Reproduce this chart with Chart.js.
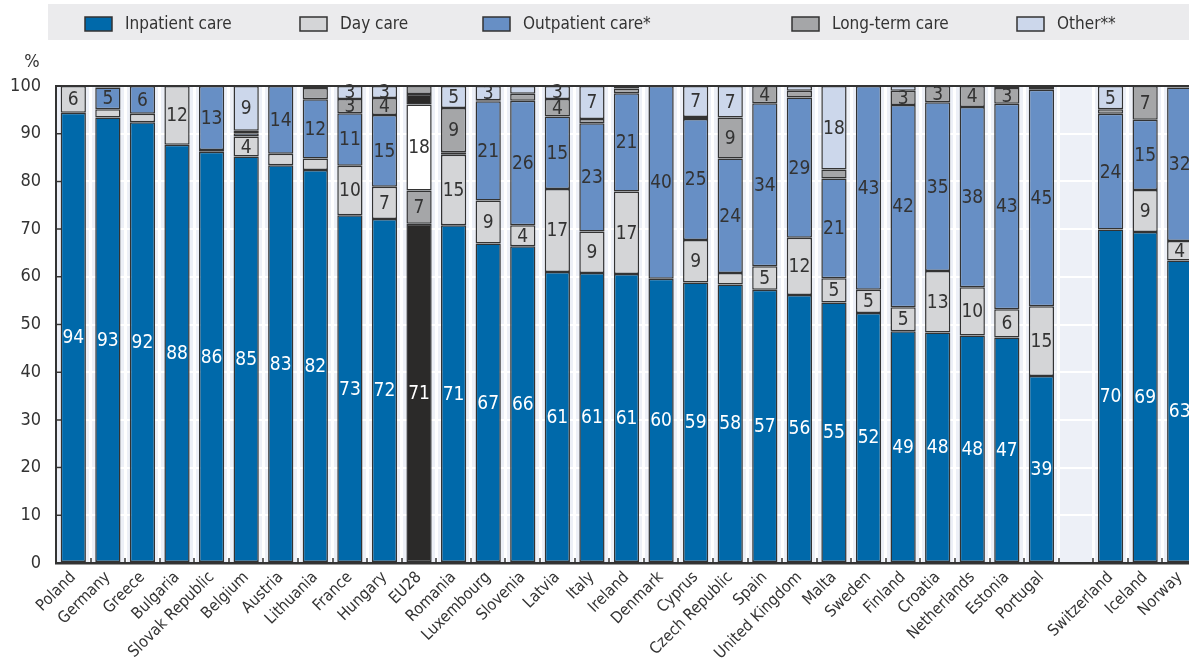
<!DOCTYPE html>
<html>
<head>
<meta charset="utf-8">
<script src="https://cdn.jsdelivr.net/npm/chart.js@4.4.6/dist/chart.umd.min.js"></script>
<style>
  html, body { margin: 0; padding: 0; background: #fff; overflow: hidden; }
  #wrap { position: relative; width: 1200px; height: 661px; }
</style>
</head>
<body>
<div id="wrap"><canvas id="c"></canvas></div>
<script>
// shares of current health spending by mode of care, per country (%)
const categories = ['Poland', 'Germany', 'Greece', 'Bulgaria', 'Slovak Republic', 'Belgium', 'Austria',
  'Lithuania', 'France', 'Hungary', 'EU28', 'Romania', 'Luxembourg', 'Slovenia', 'Latvia', 'Italy',
  'Ireland', 'Denmark', 'Cyprus', 'Czech Republic', 'Spain', 'United Kingdom', 'Malta', 'Sweden',
  'Finland', 'Croatia', 'Netherlands', 'Estonia', 'Portugal', '', 'Switzerland', 'Iceland', 'Norway'];

const inpatient = [94.4, 93.4, 92.4, 87.7, 86.2, 85.2, 83.4, 82.4, 72.9, 72.1, 71.1, 70.8, 67.0, 66.4,
  61.0, 60.8, 60.6, 59.6, 58.8, 58.4, 57.3, 56.2, 54.6, 52.4, 48.6, 48.3, 47.7, 47.3, 39.2, null,
  69.9, 69.4, 63.4];
const dayCare = [5.6, 1.7, 1.8, 12.3, 0.4, 4.2, 2.4, 2.4, 10.4, 6.8, 7.0, 14.8, 9.0, 4.4, 17.4, 8.7,
  17.3, 0, 8.9, 2.4, 4.9, 12.0, 5.1, 4.9, 5.0, 12.9, 10.1, 5.9, 14.6, null, 0, 8.8, 4.1];
const outpatient = [0, 4.6, 5.8, 0, 13.4, 0.7, 14.2, 12.4, 11.0, 15.0, 18.0, 0.5, 20.8, 26.1, 15.2,
  22.7, 20.6, 40.4, 25.4, 24.0, 34.2, 29.4, 20.9, 42.7, 42.4, 35.4, 37.8, 43.1, 45.4, null, 24.3,
  14.7, 32.2];
const longTerm = [0, 0.3, 0, 0, 0, 0.5, 0, 2.4, 3.0, 3.6, 2.2, 9.3, 0.2, 1.5, 3.7, 0.9, 1.0, 0, 0.4,
  8.6, 3.6, 1.4, 1.9, 0, 3.0, 3.4, 4.4, 3.3, 0.6, null, 0.9, 7.1, 0.3];
const other = [0, 0, 0, 0, 0, 9.4, 0, 0.4, 2.7, 2.5, 1.7, 4.6, 3.0, 1.6, 2.7, 6.9, 0.5, 0, 6.5, 6.6,
  0, 1.0, 17.5, 0, 1.0, 0, 0, 0.4, 0.2, null, 4.9, 0, 0];

const yTicks = [0, 10, 20, 30, 40, 50, 60, 70, 80, 90, 100];

const FONT = "'DejaVu Sans Condensed', 'Liberation Sans', sans-serif";
const INK = '#333333';
const EU = categories.indexOf('EU28');
const LEGEND_X = [85, 300, 483, 792, 1017];

const series = [
  { label: 'Inpatient care', data: inpatient, color: '#0069aa', eu: '#2b2a29', text: '#ffffff' },
  { label: 'Day care', data: dayCare, color: '#d4d5d7', eu: '#a5a6a8', text: INK },
  { label: 'Outpatient care*', data: outpatient, color: '#678fc5', eu: '#ffffff', text: INK },
  { label: 'Long-term care', data: longTerm, color: '#a5a6a8', eu: '#2b2a29', text: INK },
  { label: 'Other**', data: other, color: '#ccd7eb', eu: '#a5a6a8', text: INK },
];

const decor = {
  id: 'decor',
  beforeDraw(chart) {
    const { ctx, chartArea: a } = chart;
    ctx.save();
    ctx.fillStyle = '#edf0f7';
    ctx.fillRect(a.left, a.top, a.right - a.left, a.bottom - a.top);
    ctx.fillStyle = '#ebebed';
    ctx.fillRect(48, 4, chart.width - 48, 36);
    ctx.restore();
  },
  afterDatasetsDraw(chart) {
    const { ctx } = chart;
    ctx.save();
    ctx.font = '19px ' + FONT;
    ctx.textAlign = 'center';
    ctx.textBaseline = 'middle';
    chart.data.datasets.forEach((ds, di) => {
      chart.getDatasetMeta(di).data.forEach((bar, i) => {
        const v = ds.data[i];
        if (v == null || Math.round(v) < 3) return;
        ctx.fillStyle = series[di].text;
        ctx.fillText(String(Math.round(v)), bar.x, (bar.y + bar.base) / 2 + 1);
      });
    });
    ctx.restore();
  },
  afterDraw(chart) {
    const { ctx, chartArea: a, scales } = chart;
    ctx.save();
    ctx.strokeStyle = INK;
    // frame top
    ctx.lineWidth = 2;
    ctx.beginPath();
    ctx.moveTo(a.left, a.top);
    ctx.lineTo(a.right, a.top);
    ctx.stroke();
    // inner tick marks
    ctx.lineWidth = 1.5;
    ctx.beginPath();
    yTicks.forEach((t) => {
      const y = scales.y.getPixelForValue(t);
      ctx.moveTo(a.left, y);
      ctx.lineTo(a.left + 5, y);
    });
    const slot = (a.right - a.left) / categories.length;
    for (let i = 1; i < categories.length; i++) {
      const x = Math.round(a.left + i * slot);
      ctx.moveTo(x, a.bottom);
      ctx.lineTo(x, a.bottom - 5);
    }
    ctx.stroke();
    // % unit
    ctx.fillStyle = INK;
    ctx.font = '18px ' + FONT;
    ctx.textAlign = 'center';
    ctx.textBaseline = 'middle';
    ctx.fillText('%', 32, 62);
    // legend
    ctx.textAlign = 'left';
    ctx.font = '17px ' + FONT;
    series.forEach((s, i) => {
      const x = LEGEND_X[i];
      ctx.fillStyle = s.color;
      ctx.fillRect(x, 17, 27, 14);
      ctx.lineWidth = 1.5;
      ctx.strokeRect(x, 17, 27, 14);
      ctx.fillStyle = INK;
      ctx.fillText(s.label, x + 40, 25);
    });
    ctx.restore();
  },
};

new Chart(document.getElementById('c'), {
  type: 'bar',
  data: {
    labels: categories,
    datasets: series.map((s) => ({
      label: s.label,
      data: s.data.map((v) => (v ? v : null)),
      backgroundColor: (c) => (c.dataIndex === EU ? s.eu : s.color),
      borderColor: INK,
      borderWidth: 1.5,
      borderSkipped: false,
      categoryPercentage: 1,
      barPercentage: 0.73,
    })),
  },
  options: {
    responsive: true,
    maintainAspectRatio: false,
    animation: false,
    layout: { padding: { top: 86, right: 3, left: 0, bottom: 0 } },
    plugins: { legend: { display: false }, tooltip: { enabled: false } },
    scales: {
      x: {
        stacked: true,
        afterFit: (s) => { s.height = 98; },
        grid: { color: '#ffffff', lineWidth: 3, offset: true, drawTicks: false },
        border: { color: INK, width: 2.5 },
        ticks: {
          autoSkip: false,
          maxRotation: 45,
          minRotation: 45,
          padding: 5,
          color: INK,
          font: { family: FONT, size: 16 },
        },
      },
      y: {
        stacked: true,
        min: 0,
        max: 100,
        afterFit: (s) => { s.width = 56; },
        afterBuildTicks: (s) => { s.ticks = yTicks.map((v) => ({ value: v })); },
        grid: { color: '#ffffff', lineWidth: 2, drawTicks: false },
        border: { color: INK, width: 2 },
        ticks: { padding: 15, color: INK, font: { family: FONT, size: 18 } },
      },
    },
  },
  plugins: [decor],
});
</script>
</body>
</html>
